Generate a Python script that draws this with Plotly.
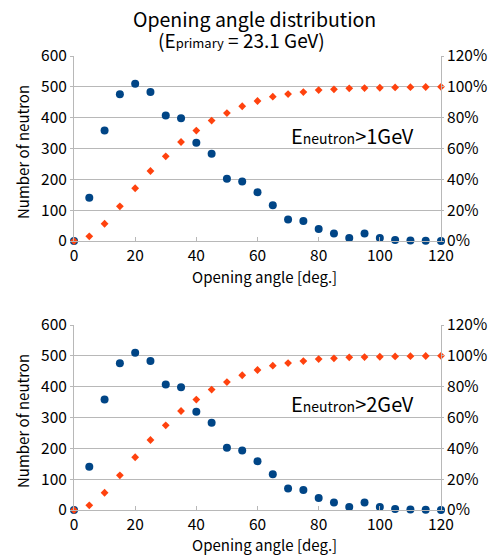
import plotly.graph_objects as go

# ---- data ----
angles = [0, 5, 10, 15, 20, 25, 30, 35, 40, 45, 50, 55, 60, 65, 70, 75, 80, 85, 90, 95, 100, 105, 110, 115, 120]

counts_1gev = [0, 140, 358, 476, 510, 483, 407, 398, 319, 283, 202, 193, 158, 116, 70, 65, 39, 24, 10, 24, 10, 3, 2, 1, 0]
cum_1gev = [0.0, 0.030, 0.112, 0.225, 0.342, 0.454, 0.549, 0.642, 0.716, 0.781, 0.830, 0.874, 0.908, 0.936, 0.953,
            0.966, 0.979, 0.984, 0.990, 0.992, 0.994, 0.996, 0.998, 0.999, 1.000]

counts_2gev = [0, 140, 358, 476, 510, 483, 407, 398, 319, 283, 202, 193, 158, 116, 70, 65, 39, 24, 10, 24, 10, 3, 2, 1, 0]
cum_2gev = [0.0, 0.030, 0.112, 0.225, 0.342, 0.454, 0.549, 0.642, 0.716, 0.781, 0.830, 0.874, 0.908, 0.936, 0.953,
            0.966, 0.979, 0.984, 0.990, 0.992, 0.994, 0.996, 0.998, 0.999, 1.000]

x_ticks = [0, 20, 40, 60, 80, 100, 120]
left_ticks = [0, 100, 200, 300, 400, 500, 600]
right_ticks = [0, 0.2, 0.4, 0.6, 0.8, 1.0, 1.2]

BLUE = "#004586"
ORANGE = "#ff420e"
GRID = "#b8b8b8"
FONT = "Noto Sans CJK JP"
W, H = 488, 555
ML, MR, MT, MB = 74, 47, 56, 45
PW, PH = W - ML - MR, H - MT - MB

fig = go.Figure()

def add_panel(counts, cum, xa, ya_l, ya_r):
    fig.add_trace(go.Scatter(x=angles, y=cum, mode="markers", xaxis=xa, yaxis=ya_r,
                             marker=dict(symbol="diamond", size=6, color=ORANGE),
                             cliponaxis=False, showlegend=False))
    fig.add_trace(go.Scatter(x=angles, y=counts, mode="markers", xaxis=xa, yaxis=ya_l,
                             marker=dict(symbol="circle", size=8, color=BLUE),
                             cliponaxis=False, showlegend=False))

add_panel(counts_1gev, cum_1gev, "x", "y", "y2")
add_panel(counts_2gev, cum_2gev, "x2", "y3", "y4")

def ydom(top_px, bot_px):
    return [1 - (bot_px - MT) / PH, 1 - (top_px - MT) / PH]

top_dom = ydom(56, 241)
bot_dom = ydom(325, 510)

tickfont = dict(family=FONT, size=15.5, color="#000000")

def xaxis_cfg(anchor):
    return dict(domain=[0, 1], anchor=anchor, range=[0, 120], tickvals=x_ticks,
                showgrid=False, zeroline=False, showline=True, linecolor=GRID, linewidth=1,
                ticks="inside", ticklen=4, tickcolor=GRID, tickfont=tickfont, automargin=False)

def yleft_cfg(dom, anchor):
    return dict(domain=dom, anchor=anchor, range=[0, 600], tickvals=left_ticks,
                showgrid=True, gridcolor=GRID, gridwidth=1, zeroline=False,
                showline=True, linecolor=GRID, linewidth=1,
                ticks="outside", ticklen=3, tickcolor=GRID, tickfont=tickfont, automargin=False)

def yright_cfg(overlay, anchor):
    return dict(overlaying=overlay, anchor=anchor, side="right", range=[0, 1.2],
                tickvals=right_ticks, tickformat=".0%", showgrid=False, zeroline=False,
                showline=True, linecolor=GRID, linewidth=1,
                ticks="outside", ticklen=2, tickcolor=GRID, tickfont=tickfont, automargin=False)

fig.update_layout(
    width=W, height=H, autosize=False,
    margin=dict(l=ML, r=MR, t=MT, b=MB, pad=0),
    paper_bgcolor="white", plot_bgcolor="white",
    font=dict(family=FONT, color="#000000"),
    xaxis=xaxis_cfg("y"),
    yaxis=yleft_cfg(top_dom, "x"),
    yaxis2=yright_cfg("y", "x"),
    xaxis2=xaxis_cfg("y3"),
    yaxis3=yleft_cfg(bot_dom, "x2"),
    yaxis4=yright_cfg("y3", "x2"),
)

def ann(text, x_px, y_px, size, angle=0):
    fig.add_annotation(text=text, x=(x_px - ML) / PW, y=1 - (y_px - MT) / PH,
                       xref="paper", yref="paper",
                       xanchor="center", yanchor="middle", showarrow=False, textangle=angle,
                       font=dict(family=FONT, size=size, color="#000000"))

ann("Opening angle distribution", 254, 19, 19.5)
ann("(E<span style='font-size:13px'>primary</span> = 23.1 GeV)", 241, 40, 19)

ann("Number of neutron", 22, 152, 15, -90)
ann("Number of neutron", 22, 421, 15, -90)
ann("Opening angle [deg.]", 264, 276, 15)
ann("Opening angle [deg.]", 264, 544, 15)

ann("E<span style='font-size:14px'>neutron</span>>1GeV", 352, 135, 20)
ann("E<span style='font-size:14px'>neutron</span>>2GeV", 352, 403, 20)

fig.write_html("out.html", config={"displayModeBar": False},
               post_script="document.body.style.margin='0px';document.body.style.padding='0px';")
